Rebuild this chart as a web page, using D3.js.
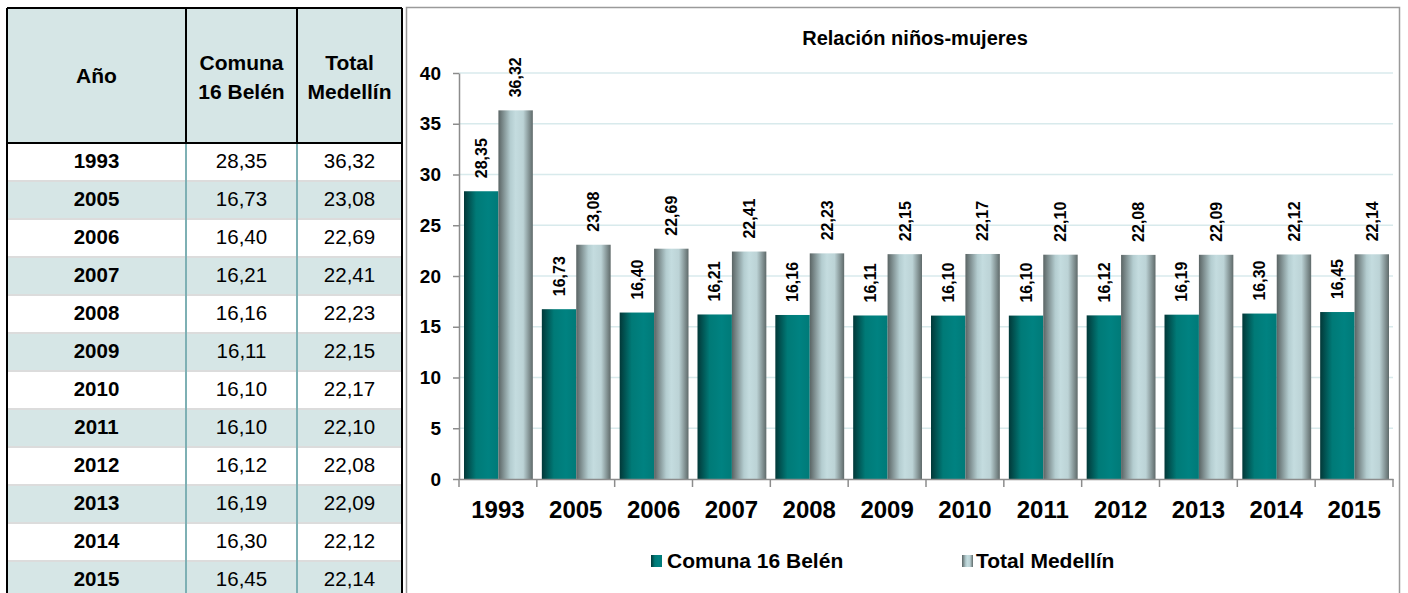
<!DOCTYPE html>
<html>
<head>
<meta charset="utf-8">
<script src="https://cdn.jsdelivr.net/npm/d3@7"></script>
<style>
  body { margin: 0; background: #fff; }
  svg { display: block; font-family: "Liberation Sans", Arial, sans-serif; }
</style>
</head>
<body>
<div id="chart"></div>
<script>
// Datos
const years = ["1993", "2005", "2006", "2007", "2008", "2009", "2010", "2011", "2012", "2013", "2014", "2015"];
const comuna = [28.35, 16.73, 16.40, 16.21, 16.16, 16.11, 16.10, 16.10, 16.12, 16.19, 16.30, 16.45];
const medellin = [36.32, 23.08, 22.69, 22.41, 22.23, 22.15, 22.17, 22.10, 22.08, 22.09, 22.12, 22.14];
const seriesNames = ["Comuna 16 Belén", "Total Medellín"];
const yTicks = [0, 5, 10, 15, 20, 25, 30, 35, 40];

const fmt = v => v.toFixed(2).replace(".", ",");

const svg = d3.select("#chart").append("svg")
  .attr("width", 1408)
  .attr("height", 593);

// Gradientes de las barras
const defs = svg.append("defs");
const gradComuna = defs.append("linearGradient").attr("id", "gComuna");
[[0, "#023838"], [0.35, "#007a77"], [0.7, "#008281"], [1, "#007a78"]].forEach(s =>
  gradComuna.append("stop").attr("offset", s[0]).attr("stop-color", s[1]));
const gradMed = defs.append("linearGradient").attr("id", "gMed");
[[0, "#5a6464"], [0.35, "#b4cdd0"], [0.5, "#c4dcdf"], [0.72, "#bcd3d6"], [1, "#5f6a6a"]].forEach(s =>
  gradMed.append("stop").attr("offset", s[0]).attr("stop-color", s[1]));
const fills = ["url(#gComuna)", "url(#gMed)"];

// ---------- Tabla ----------
const tbl = svg.append("g");
const colX = [7, 186, 297, 402];
const headTop = 8, headBottom = 143, rowH = 38;

tbl.append("rect").attr("x", colX[0]).attr("y", headTop)
  .attr("width", colX[3] - colX[0]).attr("height", headBottom - headTop)
  .attr("fill", "#d6e6e6");

years.forEach((yr, i) => {
  const top = headBottom + i * rowH;
  tbl.append("rect").attr("x", colX[0]).attr("y", top)
    .attr("width", colX[3] - colX[0]).attr("height", rowH)
    .attr("fill", i % 2 ? "#d6e6e6" : "#fff");
  if (i > 0) {
    tbl.append("line").attr("x1", colX[0]).attr("x2", colX[3])
      .attr("y1", top).attr("y2", top)
      .attr("stroke", "#dcdcdc").attr("stroke-width", 2);
  }
  const vals = [yr, fmt(comuna[i]), fmt(medellin[i])];
  vals.forEach((v, c) => {
    tbl.append("text")
      .attr("x", (colX[c] + colX[c + 1]) / 2)
      .attr("y", top + 25)
      .attr("text-anchor", "middle")
      .style("font-size", "20.5px")
      .style("font-weight", c === 0 ? "bold" : "normal")
      .attr("fill", "#000")
      .text(v);
  });
});

// Líneas de columnas en el cuerpo
[colX[1], colX[2]].forEach(x => {
  tbl.append("line").attr("x1", x).attr("x2", x)
    .attr("y1", headBottom).attr("y2", 593)
    .attr("stroke", "#7eb0b4").attr("stroke-width", 2);
});
// Bordes del encabezado
[colX[1], colX[2]].forEach(x => {
  tbl.append("line").attr("x1", x).attr("x2", x)
    .attr("y1", headTop).attr("y2", headBottom)
    .attr("stroke", "#000").attr("stroke-width", 2);
});
tbl.append("line").attr("x1", colX[0]).attr("x2", colX[3])
  .attr("y1", headTop).attr("y2", headTop).attr("stroke", "#000").attr("stroke-width", 2);
tbl.append("line").attr("x1", colX[0]).attr("x2", colX[3])
  .attr("y1", headBottom).attr("y2", headBottom).attr("stroke", "#000").attr("stroke-width", 2);
[colX[0], colX[3]].forEach(x => {
  tbl.append("line").attr("x1", x).attr("x2", x)
    .attr("y1", headTop).attr("y2", 593)
    .attr("stroke", "#000").attr("stroke-width", 2);
});

// Textos del encabezado
const headers = [["Año"], ["Comuna", "16 Belén"], ["Total", "Medellín"]];
headers.forEach((lines, c) => {
  const t = tbl.append("text")
    .attr("x", (colX[c] + colX[c + 1]) / 2)
    .attr("text-anchor", "middle")
    .style("font-size", "21px")
    .style("font-weight", "bold");
  if (lines.length === 1) {
    t.attr("y", 83).text(lines[0]);
  } else {
    lines.forEach((l, k) => t.append("tspan")
      .attr("x", (colX[c] + colX[c + 1]) / 2)
      .attr("y", 70 + k * 29).text(l));
  }
});

// ---------- Gráfico ----------
svg.append("rect").attr("x", 406.5).attr("y", 7.5)
  .attr("width", 993).attr("height", 590)
  .attr("fill", "#fff").attr("stroke", "#9a9a9a").attr("stroke-width", 1.5);

const plot = { left: 459, right: 1393, top: 73, bottom: 479 };

const x0 = d3.scaleBand().domain(years).range([plot.left, plot.right]).padding(0);
const x1 = d3.scaleBand().domain([0, 1])
  .range([5, x0.bandwidth() - 4]).padding(0);
const y = d3.scaleLinear().domain([0, 40]).range([plot.bottom, plot.top]);

// Título
svg.append("text")
  .attr("x", 915).attr("y", 45)
  .attr("text-anchor", "middle")
  .style("font-size", "20px").style("font-weight", "bold")
  .text("Relación niños-mujeres");

// Cuadrícula
svg.append("g").selectAll("line")
  .data(yTicks.filter(d => d > 0))
  .join("line")
  .attr("x1", plot.left).attr("x2", plot.right)
  .attr("y1", d => y(d)).attr("y2", d => y(d))
  .attr("stroke", "#d8eaec").attr("stroke-width", 1.5);

// Eje Y
const yAxis = svg.append("g")
  .attr("transform", `translate(${plot.left},0)`)
  .call(d3.axisLeft(y).tickValues(yTicks).tickSize(6).tickPadding(12).tickSizeOuter(0));
yAxis.select(".domain").attr("stroke", "#8c8c8c").attr("stroke-width", 1.5);
yAxis.selectAll(".tick line").attr("stroke", "#8c8c8c").attr("stroke-width", 1.5);
yAxis.selectAll(".tick text")
  .style("font-size", "19px").style("font-weight", "bold")
  .style("font-family", "'Liberation Sans', Arial, sans-serif")
  .attr("fill", "#000");

// Barras
const series = [comuna, medellin];
const groups = svg.append("g").selectAll("g")
  .data(years)
  .join("g")
  .attr("transform", d => `translate(${x0(d)},0)`);

groups.each(function(yr, i) {
  const g = d3.select(this);
  series.forEach((s, k) => {
    g.append("rect")
      .attr("x", x1(k))
      .attr("y", y(s[i]))
      .attr("width", x1.bandwidth())
      .attr("height", y(0) - y(s[i]))
      .attr("fill", fills[k]);
    g.append("text")
      .attr("transform", `translate(${x1(k) + x1.bandwidth() / 2},${y(s[i]) - 13}) rotate(-90)`)
      .attr("dy", "0.36em")
      .attr("text-anchor", "start")
      .style("font-size", "16px").style("font-weight", "bold")
      .text(fmt(s[i]));
  });
});

// Eje X
const xAxis = svg.append("g")
  .attr("transform", `translate(0,${plot.bottom})`)
  .call(d3.axisBottom(x0).tickSize(0).tickPadding(22).tickSizeOuter(0));
xAxis.select(".domain").attr("stroke", "#8c8c8c").attr("stroke-width", 1.5);
xAxis.selectAll(".tick text")
  .style("font-size", "24px").style("font-weight", "bold")
  .style("font-family", "'Liberation Sans', Arial, sans-serif")
  .attr("fill", "#000");
// Marcas entre categorías
svg.append("g").selectAll("line")
  .data(years.concat(["end"]))
  .join("line")
  .attr("x1", (d, i) => plot.left + i * x0.step())
  .attr("x2", (d, i) => plot.left + i * x0.step())
  .attr("y1", plot.bottom).attr("y2", plot.bottom + 8)
  .attr("stroke", "#8c8c8c").attr("stroke-width", 1.5);

// Leyenda
const legendX = [651, 962];
seriesNames.forEach((name, k) => {
  svg.append("rect")
    .attr("x", legendX[k]).attr("y", 555)
    .attr("width", 11).attr("height", 12)
    .attr("fill", fills[k]);
  svg.append("text")
    .attr("x", legendX[k] + (k === 0 ? 16 : 14)).attr("y", 568)
    .style("font-size", "21px").style("font-weight", "bold")
    .text(name);
});
</script>
</body>
</html>
